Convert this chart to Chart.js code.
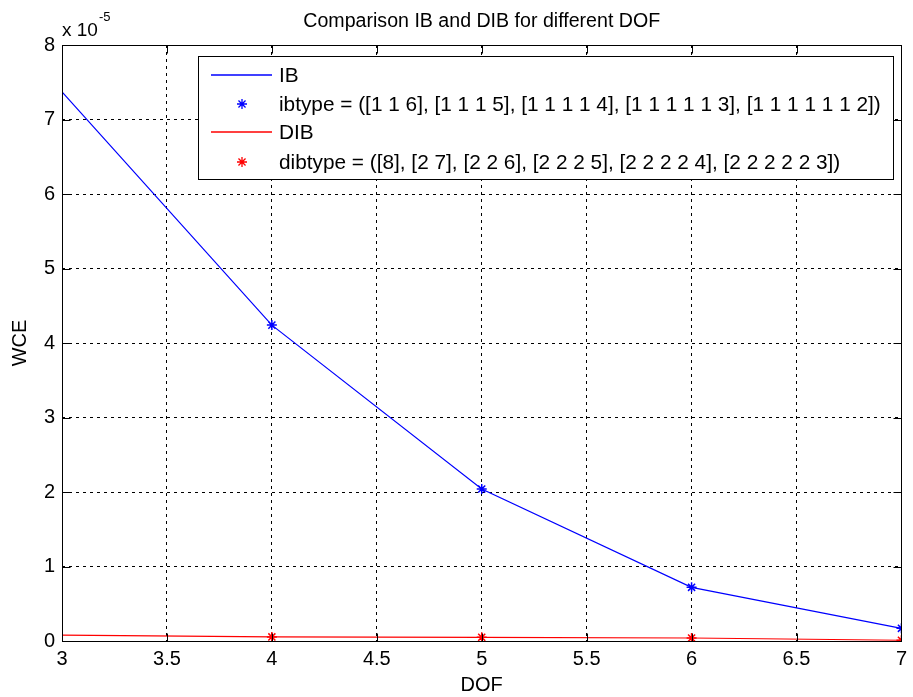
<!DOCTYPE html>
<html>
<head>
<meta charset="utf-8">
<script src="https://cdn.jsdelivr.net/npm/chart.js@4.4.1/dist/chart.umd.min.js"></script>
<style>
  html, body { margin: 0; padding: 0; background: #fff; }
  #wrap { width: 913px; height: 697px; }
</style>
</head>
<body>
<div id="wrap"><canvas id="myChart" width="913" height="697"></canvas></div>
<script>
// data (WCE values, scale x 10^-5)
const dof = [3, 4, 5, 6, 7];
const ibWce = [7.37e-5, 4.24e-5, 2.04e-5, 0.72e-5, 0.17e-5];
const dibWce = [0.08e-5, 0.055e-5, 0.05e-5, 0.04e-5, 0.01e-5];
// the '*' markers only show from DOF 4 on
const markerDof = [4, 5, 6, 7];
const xTicks = [3, 3.5, 4, 4.5, 5, 5.5, 6, 6.5, 7];
const yTicks = [0, 1, 2, 3, 4, 5, 6, 7, 8]; // in units of 10^-5

const titleText = 'Comparison IB and DIB for different DOF';
const ibLabel = 'ibtype = ([1 1 6], [1 1 1 5], [1 1 1 1 4], [1 1 1 1 1 3], [1 1 1 1 1 1 2])';
const dibLabel = 'dibtype = ([8], [2 7], [2 2 6], [2 2 2 5], [2 2 2 2 4], [2 2 2 2 2 3])';

const FONT = '"Liberation Sans", Arial, sans-serif';
const toPts = (ys) => dof.map((x, i) => ({ x: x, y: ys[i] }));
const toMarkers = (ys) => toPts(ys).filter(p => markerDof.includes(p.x));

// draws title, axis labels, exponent, inner ticks, box and the legend
const matlabPlugin = {
  id: 'matlab',
  afterDraw(chart) {
    const { ctx, chartArea: a, scales } = chart;
    const L = Math.round(a.left) + 0.5, R = Math.round(a.right) + 0.5;
    const T = Math.round(a.top) + 0.5, B = Math.round(a.bottom) + 0.5;
    ctx.save();
    ctx.strokeStyle = '#000';
    ctx.lineWidth = 1;
    ctx.setLineDash([]);

    // inner tick marks on all four sides
    const tl = 8;
    ctx.beginPath();
    xTicks.forEach(v => {
      const px = Math.round(scales.x.getPixelForValue(v)) + 0.5;
      ctx.moveTo(px, B); ctx.lineTo(px, B - tl);
      ctx.moveTo(px, T); ctx.lineTo(px, T + tl);
    });
    yTicks.forEach(v => {
      const py = Math.round(scales.y.getPixelForValue(v * 1e-5)) + 0.5;
      ctx.moveTo(L, py); ctx.lineTo(L + tl, py);
      ctx.moveTo(R, py); ctx.lineTo(R - tl, py);
    });
    ctx.stroke();
    ctx.strokeRect(L, T, R - L, B - T);

    // text
    ctx.fillStyle = '#000';
    ctx.textAlign = 'center';
    ctx.textBaseline = 'middle';
    ctx.font = '19.6px ' + FONT;
    ctx.fillText(titleText, (a.left + a.right) / 2, 22);
    ctx.font = '20px ' + FONT;
    ctx.fillText('DOF', (a.left + a.right) / 2, 685);
    ctx.save();
    ctx.translate(20, (a.top + a.bottom) / 2);
    ctx.rotate(-Math.PI / 2);
    ctx.fillText('WCE', 0, 0);
    ctx.restore();

    // exponent
    ctx.textAlign = 'left';
    ctx.textBaseline = 'alphabetic';
    ctx.font = '19px ' + FONT;
    ctx.fillText('x 10', 62, 36);
    const w = ctx.measureText('x 10').width;
    ctx.font = '13px ' + FONT;
    ctx.fillText('-5', 62 + w + 1, 21);

    // legend
    const bx = 198.5, by = 56.5, bw = 695, bh = 123;
    ctx.fillStyle = '#fff';
    ctx.fillRect(bx, by, bw, bh);
    ctx.strokeRect(bx, by, bw, bh);
    const rows = [75, 104, 132, 162];
    chart.data.datasets.forEach((ds, i) => {
      const y = rows[i];
      ctx.strokeStyle = ds.borderColor;
      if (ds.showLine !== false) {
        ctx.lineWidth = 1.3;
        ctx.beginPath();
        ctx.moveTo(211, y);
        ctx.lineTo(272, y);
        ctx.stroke();
      } else {
        ctx.fillStyle = ds.borderColor;
        Chart.helpers.drawPoint(ctx, {
          pointStyle: 'star', radius: 5, borderWidth: 1.5
        }, 242, y);
      }
      ctx.fillStyle = '#000';
      ctx.font = '20.8px ' + FONT;
      ctx.textBaseline = 'middle';
      ctx.textAlign = 'left';
      ctx.fillText(ds.label, 279, y + 1);
    });
    ctx.restore();
  }
};

const ctx = document.getElementById('myChart').getContext('2d');
const chart = new Chart(ctx, {
  type: 'scatter',
  data: {
    datasets: [
      {
        label: 'IB',
        data: toPts(ibWce),
        borderColor: '#0000ff',
        borderWidth: 1.2,
        showLine: true,
        pointRadius: 0
      },
      {
        label: ibLabel,
        data: toMarkers(ibWce),
        borderColor: '#0000ff',
        backgroundColor: '#0000ff',
        showLine: false,
        pointStyle: 'star',
        pointRadius: 5,
        pointBorderWidth: 1.5
      },
      {
        label: 'DIB',
        data: toPts(dibWce),
        borderColor: '#ff0000',
        borderWidth: 1.2,
        showLine: true,
        pointRadius: 0
      },
      {
        label: dibLabel,
        data: toMarkers(dibWce),
        borderColor: '#ff0000',
        backgroundColor: '#ff0000',
        showLine: false,
        pointStyle: 'star',
        pointRadius: 5,
        pointBorderWidth: 1.5
      }
    ]
  },
  options: {
    responsive: false,
    animation: false,
    layout: { padding: { top: 45, right: 11, left: 0, bottom: 0 } },
    plugins: {
      legend: { display: false },
      title: { display: false },
      tooltip: { enabled: false }
    },
    scales: {
      x: {
        type: 'linear',
        min: 3,
        max: 7,
        afterBuildTicks: (s) => { s.ticks = xTicks.map(v => ({ value: v })); },
        afterFit: (s) => { s.height = 56; },
        ticks: {
          color: '#000',
          font: { family: FONT, size: 20 },
          padding: 6,
          maxRotation: 0,
          callback: (v) => String(v)
        },
        grid: { color: '#000', lineWidth: 1, drawTicks: false },
        border: { display: false, dash: [3, 4] }
      },
      y: {
        type: 'linear',
        min: 0,
        max: 8e-5,
        afterBuildTicks: (s) => { s.ticks = yTicks.map(v => ({ value: v * 1e-5 })); },
        afterFit: (s) => { s.width = 62; },
        ticks: {
          color: '#000',
          font: { family: FONT, size: 20 },
          padding: 7,
          callback: (v) => String(Math.round(v / 1e-5))
        },
        grid: { color: '#000', lineWidth: 1, drawTicks: false },
        border: { display: false, dash: [3, 4] }
      }
    }
  },
  plugins: [matlabPlugin]
});
</script>
</body>
</html>
